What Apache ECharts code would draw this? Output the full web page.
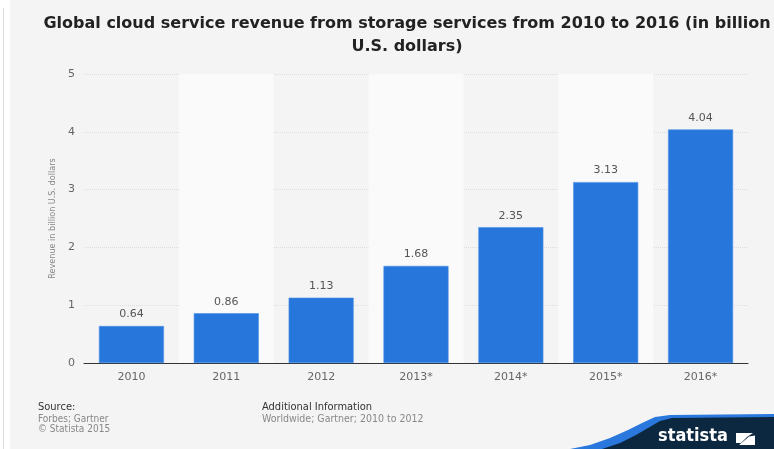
<!DOCTYPE html>
<html><head><meta charset="utf-8">
<script src="https://cdn.jsdelivr.net/npm/echarts@6/dist/echarts.min.js"></script>
<style>html,body{margin:0;padding:0;background:#fff}#c{width:774px;height:449px}</style>
</head><body><div id="c"></div>
<script>
var categories = ['2010','2011','2012','2013*','2014*','2015*','2016*'];
var revenue = [0.64, 0.86, 1.13, 1.68, 2.35, 3.13, 4.04];
var yTicks = {min: 0, max: 5, interval: 1};
var titleText = 'Global cloud service revenue from storage services from 2010 to 2016 (in billion\nU.S. dollars)';
var yAxisName = 'Revenue in billion U.S. dollars';

var chart = echarts.init(document.getElementById('c'));
chart.setOption({
  backgroundColor: '#ffffff',
  animation: false,
  title: {
    text: titleText, left: 402, top: 7, textAlign: 'center',
    textStyle: {fontFamily: 'DejaVu Sans', fontWeight: 'bold', fontSize: 16, color: '#222', lineHeight: 23}
  },
  grid: {left: 84, right: 26, top: 74, bottom: 86},
  xAxis: {
    type: 'category', data: categories,
    axisLine: {lineStyle: {color: '#333', width: 1}},
    axisTick: {show: false},
    axisLabel: {color: '#666', fontFamily: 'DejaVu Sans', fontSize: 11, margin: 9},
    splitArea: {show: true, areaStyle: {color: ['rgba(0,0,0,0)', '#fafafa']}}
  },
  yAxis: {
    type: 'value', min: yTicks.min, max: yTicks.max, interval: yTicks.interval,
    name: yAxisName, nameLocation: 'middle', nameGap: 23,
    nameTextStyle: {color: '#888', fontFamily: 'DejaVu Sans Condensed', fontSize: 9},
    axisLine: {show: false}, axisTick: {show: false},
    axisLabel: {color: '#666', fontFamily: 'DejaVu Sans', fontSize: 11, margin: 9},
    splitLine: {lineStyle: {color: '#dcdcdc', type: 'dotted'}}
  },
  series: [{
    type: 'bar', data: revenue, barWidth: 65, z: 3,
    itemStyle: {color: '#2776dc', borderColor: '#4a8fe6', borderWidth: 0.6},
    label: {show: true, position: 'top', distance: 6, color: '#555', fontFamily: 'DejaVu Sans', fontSize: 11}
  }],
  graphic: [
    {type: 'rect', z: -10, silent: true, shape: {x: 10, y: 0, width: 764, height: 449}, style: {fill: '#f4f4f4'}},
    {type: 'line', z: -9, silent: true, shape: {x1: 3.5, y1: 8, x2: 3.5, y2: 449}, style: {stroke: '#ddd', lineWidth: 1}},
    {type: 'text', x: 38, y: 402, style: {text: 'Source:', fill: '#333', font: '11px "DejaVu Sans Condensed"'}},
    {type: 'text', x: 38, y: 414, style: {text: 'Forbes; Gartner', fill: '#888', font: '10px "DejaVu Sans Condensed"'}},
    {type: 'text', x: 38, y: 424.5, style: {text: '\u00a9 Statista 2015', fill: '#888', font: '10px "DejaVu Sans Condensed"'}},
    {type: 'text', x: 262, y: 402, style: {text: 'Additional Information', fill: '#333', font: '11px "DejaVu Sans Condensed"'}},
    {type: 'text', x: 262, y: 414, style: {text: 'Worldwide; Gartner; 2010 to 2012', fill: '#888', font: '10.5px "DejaVu Sans Condensed"'}},
    {type: 'polygon', silent: true, shape: {points: [[570,449],[590,445],[610,438],[628,430],[642,423],[655,417],[670,415],[774,414],[774,449]]}, style: {fill: '#2a78dd'}},
    {type: 'polygon', silent: true, shape: {points: [[602,449],[620,443],[636,435],[648,428],[660,421],[672,418],[774,417],[774,449]]}, style: {fill: '#0c2840'}},
    {type: 'text', x: 658, y: 427, style: {text: 'statista', fill: '#fff', font: 'bold 18px "DejaVu Sans Condensed"'}},
    {type: 'polygon', silent: true, shape: {points: [[736,433],[753,433],[747,437],[741,443],[736,443]]}, style: {fill: '#fff'}},
    {type: 'polygon', silent: true, shape: {points: [[755,435.5],[755,445],[739,445],[745,440],[749,436.5]]}, style: {fill: '#fff'}}
  ]
});
</script></body></html>
